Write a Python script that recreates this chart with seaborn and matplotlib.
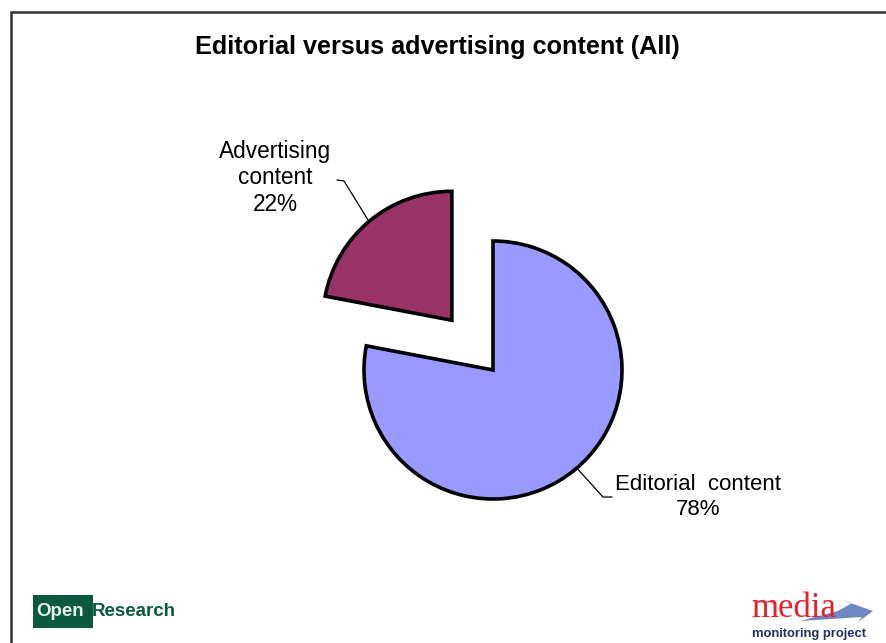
import numpy as np
import matplotlib
matplotlib.use("Agg")
import matplotlib.pyplot as plt
import seaborn as sns
from matplotlib.patches import Rectangle, Polygon

# Share of content by type
categories = ["Editorial content", "Advertising content"]
shares = [78, 22]
title = "Editorial versus advertising content (All)"

sns.set_theme(style="white")
plt.rcParams["font.family"] = ["Liberation Sans", "DejaVu Sans"]
colors = sns.color_palette(["#9999FF", "#993366"])

W, H = 887, 643
fig = plt.figure(figsize=(W / 100, H / 100), dpi=100)
ax = fig.add_axes([0, 0, 1, 1])

# pie geometry in pixel-like data units (y pointing up)
cx, cy, radius = 493, H - 370, 129
wedges, _ = ax.pie(
    shares,
    colors=colors,
    center=(cx, cy),
    radius=radius,
    startangle=90,
    counterclock=False,
    explode=[0, 0.5 * radius],
    wedgeprops=dict(edgecolor="black", linewidth=2.6, joinstyle="miter"),
)
ax.set_xlim(0, W)
ax.set_ylim(0, H)
ax.set_aspect("equal")
ax.axis("off")


def arc_point(w, ang):
    a = np.deg2rad(ang)
    return w.center[0] + w.r * np.cos(a), w.center[1] + w.r * np.sin(a)


# leader lines and category labels
label_fs = 16.3
# Advertising
px, py = arc_point(wedges[1], 130)
ax.plot([px, 344, 337], [py, H - 181, H - 180], color="black", lw=0.9)
ax.text(275, H - 178, f"Advertising\ncontent\n{shares[1]}%", ha="center", va="center",
        fontsize=label_fs, linespacing=1.2, color="black")
# Editorial
px, py = arc_point(wedges[0], -49.5)
ax.plot([px, 603, 612], [py, H - 497, H - 497], color="black", lw=0.9)
ax.text(698, H - 497, f"Editorial  content\n{shares[0]}%", ha="center", va="center",
        fontsize=16, linespacing=1.2, color="black")

# title
ax.text(437, H - 47, title, ha="center", va="center", fontsize=18.2,
        fontweight="bold", color="black")

# frame (left and top edges)
ax.plot([11, 11, W + 5], [-5, H - 12, H - 12], color="#333333", lw=1.8,
        solid_joinstyle="miter", clip_on=False)

# OpenResearch logo
ax.add_patch(Rectangle((33, H - 628), 60, 33, facecolor="#0b5a40", edgecolor="none"))
ax.text(36, H - 611, "Open", ha="left", va="center", fontsize=13.5,
        fontweight="bold", color="#e8f0ea")
ax.text(92, H - 611, "Research", ha="left", va="center", fontsize=13.5,
        fontweight="bold", color="#0b5a40")

# media monitoring project logo
ax.add_patch(Polygon([[800, H - 621], [838, H - 611], [852, H - 603], [842, H - 600],
                      [873, H - 611], [858, H - 622], [862, H - 617]],
                     closed=True, facecolor="#6f86c4", edgecolor="none"))
ax.text(751, H - 617, "media", ha="left", va="baseline", fontsize=25,
        family=["Liberation Serif", "DejaVu Serif"], color="#e8202a")
ax.text(752, H - 637, "monitoring project", ha="left", va="baseline", fontsize=9.4,
        fontweight="bold", color="#1f2f6a")

fig.savefig("out.png", dpi=100, facecolor="white")
